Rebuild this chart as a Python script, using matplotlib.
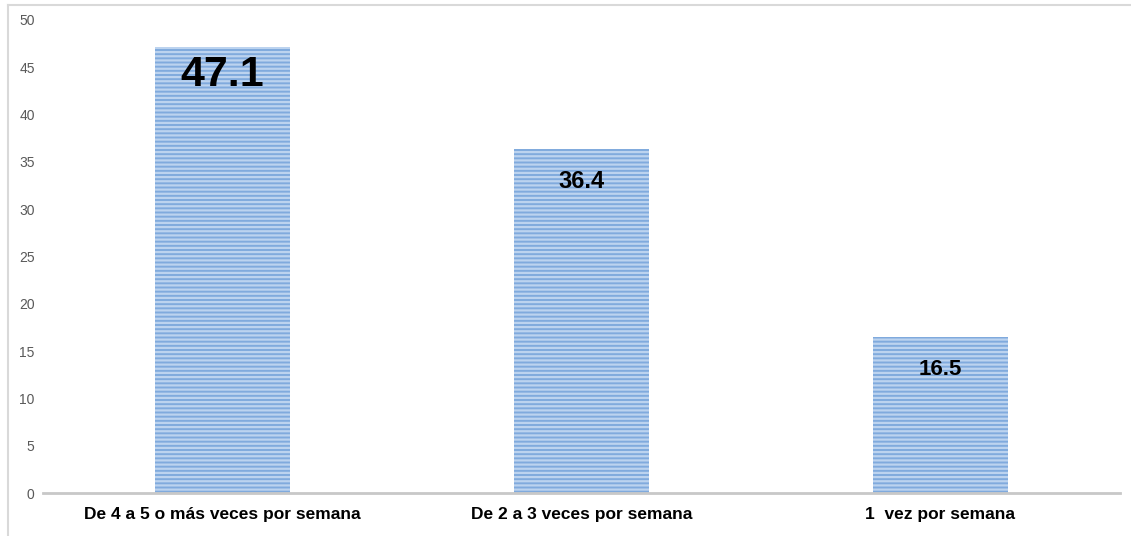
import matplotlib
matplotlib.use('Agg')
import matplotlib.pyplot as plt
from matplotlib.lines import Line2D

plt.rcParams['font.family'] = ['Liberation Sans Narrow', 'Liberation Sans', 'DejaVu Sans']
plt.rcParams['hatch.linewidth'] = 1.6

# Datos
categorias = ['De 4 a 5 o más veces por semana', 'De 2 a 3 veces por semana', '1  vez por semana']
valores = [47.1, 36.4, 16.5]
etiquetas = ['47.1', '36.4', '16.5']
yticks = [0, 5, 10, 15, 20, 25, 30, 35, 40, 45, 50]

fig = plt.figure(figsize=(11.31, 5.36), dpi=100)
ax = fig.add_axes([0.038, 0.0802, 0.952, 0.8825])

x = range(len(categorias))
barras = ax.bar(x, valores, width=0.376, color='#80aadd', edgecolor='#bcd3ef',
                hatch='----', linewidth=0)

# etiquetas de valor dentro de las barras
tamanos = [31, 17, 16]
desplaz = [-28, -33, -33]
for b, txt, fs, dy in zip(barras, etiquetas, tamanos, desplaz):
    ax.annotate(txt, (b.get_x() + b.get_width() / 2, b.get_height()),
                xytext=(0, dy), textcoords='offset pixels',
                ha='center', va='center', fontsize=fs, fontweight='bold', color='black')

ax.set_xlim(-0.5, 2.5)
ax.set_ylim(0, 50)
ax.set_yticks(yticks)
ax.set_xticks(list(x))
ax.set_xticklabels(categorias, fontsize=12.5, fontweight='bold')
ax.tick_params(axis='y', length=0, labelsize=10, labelcolor='#595959', pad=6)
ax.tick_params(axis='x', length=0, pad=10)

for s in ['top', 'right', 'left']:
    ax.spines[s].set_visible(False)
ax.spines['bottom'].set_color('#c8c8c8')
ax.spines['bottom'].set_linewidth(2)

# borde del recuadro
fig.add_artist(Line2D([0.0075, 1.0], [0.991, 0.991], color='#d9d9d9', lw=1.5, transform=fig.transFigure))
fig.add_artist(Line2D([0.0075, 0.0075], [0.0, 0.991], color='#d9d9d9', lw=1.5, transform=fig.transFigure))

plt.savefig('out.png', dpi=100)
